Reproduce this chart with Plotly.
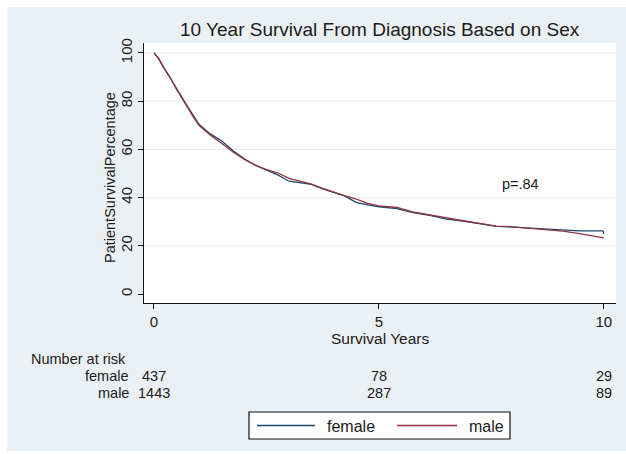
import plotly.graph_objects as go

# ---------------- data ----------------
years = [0, 0.1, 0.21, 0.36, 0.5, 0.61, 0.75, 0.87, 1.0, 1.25, 1.5, 1.75, 2.0, 2.25,
         2.5, 2.75, 3.0, 3.25, 3.5, 3.75, 4.0, 4.25, 4.5, 4.75, 5.0, 5.4, 5.75, 6.13,
         6.5, 6.87, 7.24, 7.61, 7.98, 8.35, 8.72, 9.09, 9.46, 9.83, 9.98, 10.0]
female = [100, 97.8, 94.2, 89.5, 85.3, 81.8, 77.6, 74.2, 70.4, 66.4, 63.6, 59.5, 56.2,
          53.4, 51.4, 49.4, 46.8, 46.2, 45.5, 43.6, 42.1, 40.6, 37.9, 36.9, 36.2, 35.4,
          33.8, 32.6, 31.1, 30.3, 29.1, 28.1, 27.8, 27.4, 26.8, 26.3, 26.2, 26.2, 26.2, 25.0]
male = [100, 97.6, 94.0, 89.8, 85.0, 81.5, 77.0, 73.6, 70.0, 66.0, 62.5, 59.0, 55.9,
        53.5, 51.6, 50.3, 48.0, 46.9, 45.6, 43.8, 42.2, 40.7, 39.4, 37.6, 36.6, 35.9,
        34.1, 32.8, 31.4, 30.4, 29.3, 28.2, 27.9, 27.4, 26.7, 26.1, 25.1, 24.0, 23.4, 23.3]
series_names = ["female", "male"]
risk_times = [0, 5, 10]
risk_female = [437, 78, 29]
risk_male = [1443, 287, 89]
x_ticks = [0, 5, 10]
y_ticks = [0, 20, 40, 60, 80, 100]
y_grid = [20, 40, 60, 80, 100]
p_text = "p=.84"

# ---------------- style ----------------
W, H = 626, 454
L, R, T, B = 144, 616, 43, 303
BG = "#eaf0f3"
C_F = "#1a476f"
C_M = "#90353b"
TXT = "#1b1b1b"
FONT = "Liberation Sans, Arial, sans-serif"


def px(x):
    return (x - L) / (R - L)


def py(y):
    return (B - y) / (B - T)


fig = go.Figure()
fig.add_trace(go.Scatter(x=years, y=female, mode="lines", name=series_names[0],
                         line=dict(color=C_F, width=1.3), showlegend=False))
fig.add_trace(go.Scatter(x=years, y=male, mode="lines", name=series_names[1],
                         line=dict(color=C_M, width=1.3), showlegend=False))

shapes = [
    dict(type="rect", xref="paper", yref="paper", x0=px(7), x1=px(W + 5),
         y0=py(451), y1=py(7), fillcolor=BG, line=dict(width=0), layer="below"),
    dict(type="rect", xref="paper", yref="paper", x0=0, x1=1, y0=0, y1=1,
         fillcolor="white", line=dict(width=0), layer="below"),
]
for g in y_grid:
    shapes.append(dict(type="line", xref="paper", yref="y", x0=0, x1=1, y0=g, y1=g,
                       line=dict(color="#e8eef0", width=1.2), layer="below"))

# legend box
shapes.append(dict(type="rect", xref="paper", yref="paper", x0=px(249), x1=px(510),
                   y0=py(439), y1=py(412), fillcolor="white",
                   line=dict(color="#111", width=1.2)))
shapes.append(dict(type="line", xref="paper", yref="paper", x0=px(257), x1=px(315),
                   y0=py(425.5), y1=py(425.5), line=dict(color=C_F, width=1.5)))
shapes.append(dict(type="line", xref="paper", yref="paper", x0=px(397), x1=px(457),
                   y0=py(425.5), y1=py(425.5), line=dict(color=C_M, width=1.5)))

ann = []
ann.append(dict(text="10 Year Survival From Diagnosis Based on Sex", xref="paper",
                yref="paper", x=0.5, y=py(30), showarrow=False,
                font=dict(size=19, color=TXT, family=FONT), xanchor="center",
                yanchor="middle"))
ann.append(dict(text="PatientSurvivalPercentage", xref="paper", yref="paper",
                x=px(110), y=py(178), textangle=-90, showarrow=False,
                font=dict(size=14.5, color=TXT, family=FONT), xanchor="center",
                yanchor="middle"))
ann.append(dict(text="Survival Years", xref="paper", yref="paper", x=0.5, y=py(338),
                showarrow=False, font=dict(size=15.5, color=TXT, family=FONT),
                xanchor="center", yanchor="middle"))
ann.append(dict(text=p_text, xref="x", yref="y", x=8.15, y=45.8, showarrow=False,
                font=dict(size=14.5, color=TXT, family=FONT), xanchor="center",
                yanchor="middle"))
ann.append(dict(text="Number at risk", xref="paper", yref="paper", x=px(29),
                y=py(359), showarrow=False, xanchor="left", yanchor="middle",
                font=dict(size=14.5, color=TXT, family=FONT)))
for name, row_y in zip(series_names, [375.5, 393]):
    ann.append(dict(text=name, xref="paper", yref="paper", x=px(131), y=py(row_y),
                    showarrow=False, xanchor="right", yanchor="middle",
                    font=dict(size=14.5, color=TXT, family=FONT)))
for vals, row_y in zip([risk_female, risk_male], [375.5, 393]):
    for t, v in zip(risk_times, vals):
        ann.append(dict(text=str(v), xref="x", yref="paper", x=t, y=py(row_y),
                        showarrow=False, xanchor="center", yanchor="middle",
                        font=dict(size=14.5, color=TXT, family=FONT)))
ann.append(dict(text=series_names[0], xref="paper", yref="paper", x=px(325),
                y=py(426), showarrow=False, xanchor="left", yanchor="middle",
                font=dict(size=16, color=TXT, family=FONT)))
ann.append(dict(text=series_names[1], xref="paper", yref="paper", x=px(467),
                y=py(426), showarrow=False, xanchor="left", yanchor="middle",
                font=dict(size=16, color=TXT, family=FONT)))

fig.update_layout(
    width=W, height=H,
    margin=dict(l=L, r=W - R, t=T, b=H - B, pad=0),
    paper_bgcolor="white", plot_bgcolor="rgba(0,0,0,0)",
    shapes=shapes, annotations=ann, showlegend=False,
    font=dict(family=FONT, color=TXT, size=14),
)
fig.update_xaxes(range=[-0.222, 10.27], tickvals=x_ticks, showgrid=False,
                 zeroline=False, showline=True, linecolor="#111", linewidth=1.3,
                 ticks="outside", ticklen=5, tickcolor="#111", tickwidth=1.3,
                 tickfont=dict(size=15, color=TXT, family=FONT))
fig.update_yaxes(range=[-3.7, 104.1], tickvals=y_ticks, showgrid=False,
                 zeroline=False, showline=True, linecolor="#111", linewidth=1.3,
                 ticks="outside", ticklen=5, tickcolor="#111", tickwidth=1.3,
                 tickangle=-90, tickfont=dict(size=15, color=TXT, family=FONT))

fig.write_html("out.html", config={"displayModeBar": False},
               post_script="document.body.style.margin='0';document.body.style.padding='0';")
